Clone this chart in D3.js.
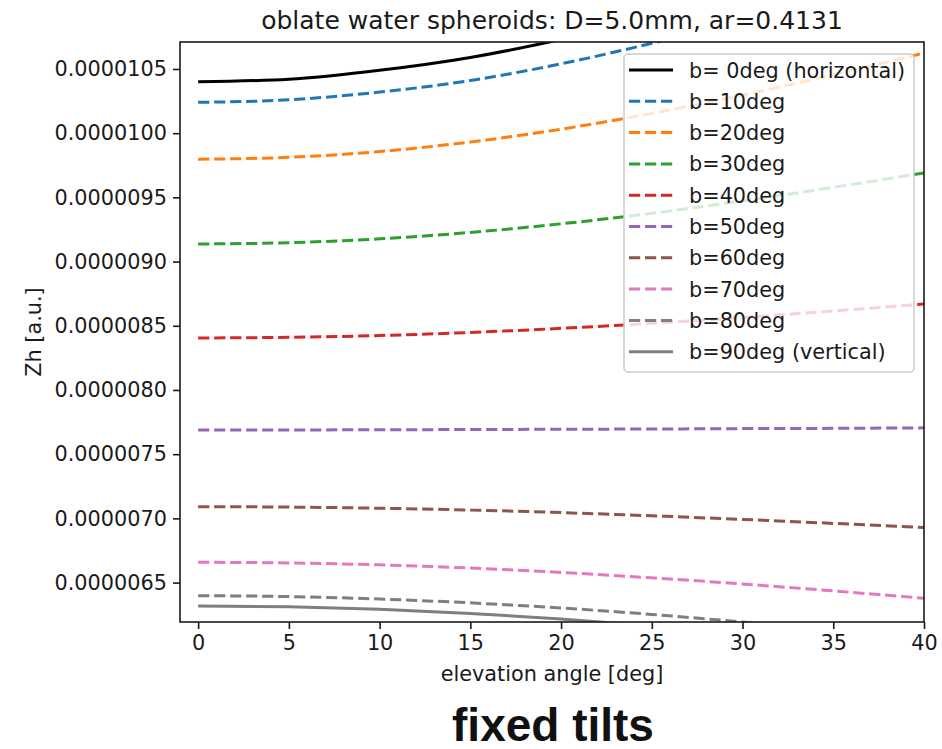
<!DOCTYPE html>
<html>
<head>
<meta charset="utf-8">
<script src="https://cdn.jsdelivr.net/npm/d3@7"></script>
<style>
  html, body { margin: 0; padding: 0; background: #ffffff; }
  svg { display: block; }
  text { fill: #1a1a1a; }
</style>
</head>
<body>
<svg id="chart" width="942" height="749"></svg>
<script>
// Elevation angles (deg) at which Zh was sampled
const elevation = [0, 5, 10, 15, 20, 25, 30, 35, 40];

// Zh [a.u.] for each fixed tilt angle b
const zhB0  = [10.40e-6, 10.42e-6, 10.49e-6, 10.59e-6, 10.73e-6, 10.90e-6, 11.10e-6, 11.32e-6, 11.56e-6];
const zhB10 = [10.24e-6, 10.26e-6, 10.32e-6, 10.41e-6, 10.54e-6, 10.70e-6, 10.88e-6, 11.08e-6, 11.29e-6];
const zhB20 = [9.797e-6, 9.812e-6, 9.857e-6, 9.931e-6, 10.031e-6, 10.154e-6, 10.297e-6, 10.455e-6, 10.624e-6];
const zhB30 = [9.137e-6, 9.147e-6, 9.177e-6, 9.227e-6, 9.294e-6, 9.376e-6, 9.472e-6, 9.578e-6, 9.690e-6];
const zhB40 = [8.405e-6, 8.410e-6, 8.424e-6, 8.448e-6, 8.480e-6, 8.519e-6, 8.565e-6, 8.615e-6, 8.669e-6];
const zhB50 = [7.689e-6, 7.689e-6, 7.690e-6, 7.692e-6, 7.694e-6, 7.696e-6, 7.699e-6, 7.701e-6, 7.705e-6];
const zhB60 = [7.091e-6, 7.088e-6, 7.079e-6, 7.065e-6, 7.045e-6, 7.020e-6, 6.992e-6, 6.961e-6, 6.928e-6];
const zhB70 = [6.658e-6, 6.653e-6, 6.638e-6, 6.613e-6, 6.579e-6, 6.537e-6, 6.489e-6, 6.435e-6, 6.378e-6];
const zhB80 = [6.398e-6, 6.391e-6, 6.372e-6, 6.342e-6, 6.302e-6, 6.252e-6, 6.193e-6, 6.128e-6, 6.060e-6];
const zhB90 = [6.318e-6, 6.311e-6, 6.292e-6, 6.260e-6, 6.216e-6, 6.162e-6, 6.100e-6, 6.031e-6, 5.958e-6];

// Legend labels, in drawing order
const seriesLabels = [
  "b= 0deg (horizontal)", "b=10deg", "b=20deg", "b=30deg", "b=40deg",
  "b=50deg", "b=60deg", "b=70deg", "b=80deg", "b=90deg (vertical)"
];

// Axis ticks
const xTicks = [0, 5, 10, 15, 20, 25, 30, 35, 40];
const yTicks = [6.5e-6, 7.0e-6, 7.5e-6, 8.0e-6, 8.5e-6, 9.0e-6, 9.5e-6, 10.0e-6, 10.5e-6];

const titleText = "oblate water spheroids: D=5.0mm, ar=0.4131";
const xLabel = "elevation angle [deg]";
const yLabel = "Zh [a.u.]";
const captionText = "fixed tilts";

// ---- styling ----
const seriesValues = [zhB0, zhB10, zhB20, zhB30, zhB40, zhB50, zhB60, zhB70, zhB80, zhB90];
const seriesColors = ["#000000", "#1f77b4", "#ff7f0e", "#2ca02c", "#d62728",
                      "#9467bd", "#8c564b", "#e377c2", "#7f7f7f", "#7f7f7f"];
const seriesDashed = [false, true, true, true, true, true, true, true, true, false];

const series = seriesLabels.map((label, i) => ({
  label,
  color: seriesColors[i],
  dashed: seriesDashed[i],
  points: elevation.map((e, j) => ({ x: e, y: seriesValues[i][j] }))
}));

const plot = { left: 180, right: 924, top: 42, bottom: 622 };
const fontSize = 20.8;
const baseFont = "'DejaVu Sans', sans-serif";
const lineW = 3;
const dash = "11.2,4.8";

const svg = d3.select("#chart");

const x = d3.scaleLinear().domain([-1, 40]).range([plot.left, plot.right]);
const y = d3.scaleLinear().domain([6.193e-6, 10.71e-6]).range([plot.bottom, plot.top]);

svg.append("defs").append("clipPath").attr("id", "plot-clip")
  .append("rect")
  .attr("x", plot.left).attr("y", plot.top)
  .attr("width", plot.right - plot.left).attr("height", plot.bottom - plot.top);

// Curves
const line = d3.line().x(d => x(d.x)).y(d => y(d.y)).curve(d3.curveMonotoneX);
const curves = svg.append("g").attr("clip-path", "url(#plot-clip)");
series.forEach(s => {
  curves.append("path")
    .datum(s.points)
    .attr("d", line)
    .attr("fill", "none")
    .attr("stroke", s.color)
    .attr("stroke-width", lineW)
    .attr("stroke-dasharray", s.dashed ? dash : null);
});

// Axes
const xAxis = svg.append("g")
  .attr("transform", `translate(0,${plot.bottom})`)
  .call(d3.axisBottom(x).tickValues(xTicks).tickFormat(d3.format("d")).tickSize(7).tickPadding(6));
const yAxis = svg.append("g")
  .attr("transform", `translate(${plot.left},0)`)
  .call(d3.axisLeft(y).tickValues(yTicks).tickFormat(d3.format(".7f")).tickSize(7).tickPadding(6));

[xAxis, yAxis].forEach(g => {
  g.select(".domain").remove();
  g.selectAll(".tick line").attr("stroke", "#1a1a1a").attr("stroke-width", 1.6);
  g.selectAll(".tick text")
    .style("font-family", baseFont)
    .style("font-size", fontSize + "px")
    .attr("fill", "#1a1a1a");
});

// Frame
svg.append("rect")
  .attr("x", plot.left).attr("y", plot.top)
  .attr("width", plot.right - plot.left).attr("height", plot.bottom - plot.top)
  .attr("fill", "none").attr("stroke", "#1a1a1a").attr("stroke-width", 1.6);

// Legend
const legend = { left: 624, top: 54, width: 290, height: 318, rowH: 31.3, firstRow: 70 };
const lg = svg.append("g");
lg.append("rect")
  .attr("x", legend.left).attr("y", legend.top)
  .attr("width", legend.width).attr("height", legend.height)
  .attr("rx", 4).attr("ry", 4)
  .attr("fill", "#ffffff").attr("fill-opacity", 0.8)
  .attr("stroke", "#cccccc").attr("stroke-width", 1.5);
series.forEach((s, i) => {
  const cy = legend.firstRow + i * legend.rowH;
  lg.append("line")
    .attr("x1", 629).attr("x2", 673).attr("y1", cy).attr("y2", cy)
    .attr("stroke", s.color).attr("stroke-width", lineW)
    .attr("stroke-dasharray", s.dashed ? dash : null);
  lg.append("text")
    .attr("x", 689).attr("y", cy + 7.5)
    .style("font-family", baseFont)
    .style("font-size", fontSize + "px")
    .text(s.label);
});

// Titles and labels
svg.append("text")
  .attr("x", (plot.left + plot.right) / 2).attr("y", 29)
  .attr("text-anchor", "middle")
  .style("font-family", baseFont)
  .style("font-size", "25px")
  .text(titleText);

svg.append("text")
  .attr("x", (plot.left + plot.right) / 2).attr("y", 681)
  .attr("text-anchor", "middle")
  .style("font-family", baseFont)
  .style("font-size", fontSize + "px")
  .text(xLabel);

svg.append("text")
  .attr("transform", `translate(41,${(plot.top + plot.bottom) / 2}) rotate(-90)`)
  .attr("text-anchor", "middle")
  .style("font-family", baseFont)
  .style("font-size", fontSize + "px")
  .text(yLabel);

svg.append("text")
  .attr("x", 553).attr("y", 741)
  .attr("text-anchor", "middle")
  .style("font-family", "'Liberation Sans', Arial, sans-serif")
  .style("font-weight", "bold")
  .style("font-size", "46px")
  .style("fill", "#111111")
  .text(captionText);
</script>
</body>
</html>
